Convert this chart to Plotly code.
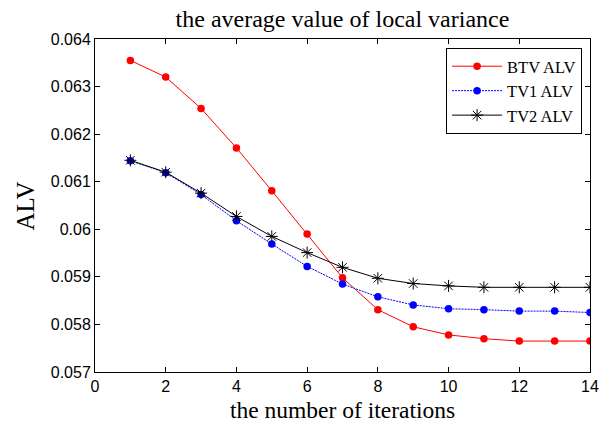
import plotly.graph_objects as go

iterations = list(range(1, 15))
btv_alv = [0.06355, 0.06320, 0.06254, 0.06171, 0.06081, 0.05990, 0.05898, 0.05831,
           0.05795, 0.05778, 0.05770, 0.05765, 0.05765, 0.05765]
tv1_alv = [0.06144, 0.06119, 0.06073, 0.06018, 0.05969, 0.05922, 0.05885, 0.05858,
           0.05841, 0.05833, 0.05831, 0.05828, 0.05828, 0.05825]
tv2_alv = [0.06145, 0.06120, 0.06076, 0.06027, 0.05985, 0.05951, 0.05920, 0.05897,
           0.05886, 0.05881, 0.05878, 0.05878, 0.05878, 0.05878]

SERIF = "Liberation Serif, Times New Roman"
SANS = "Liberation Sans, Arial"

fig = go.Figure()
fig.add_trace(go.Scatter(x=iterations, y=btv_alv, name="BTV ALV", mode="lines+markers",
                         line=dict(color="#ff0000", width=1),
                         marker=dict(symbol="circle", size=7.5, color="#ff0000")))
fig.add_trace(go.Scatter(x=iterations, y=tv1_alv, name="TV1 ALV", mode="lines+markers",
                         line=dict(color="#0000ff", width=1, dash="2px,1px"),
                         marker=dict(symbol="circle", size=7.5, color="#0000ff")))
fig.add_trace(go.Scatter(x=iterations, y=tv2_alv, name="TV2 ALV", mode="lines+markers",
                         line=dict(color="#000000", width=1),
                         marker=dict(symbol="asterisk-open", size=10,
                                     line=dict(color="#000000", width=1))))

axis_common = dict(showline=True, linecolor="black", linewidth=1, mirror="ticks",
                   ticks="inside", ticklen=5, tickcolor="black", showgrid=False,
                   zeroline=False, automargin=False,
                   tickfont=dict(family=SANS, size=16, color="black"))

fig.update_layout(
    width=606, height=425,
    autosize=False,
    margin=dict(l=95, r=16, t=39, b=53),
    paper_bgcolor="white", plot_bgcolor="white",
    title=dict(text="the average value of local variance", xref="paper", x=0.5,
               xanchor="center", y=0.957, yanchor="middle",
               font=dict(family=SERIF, size=24, color="black")),
    xaxis=dict(range=[0, 14], dtick=2, tick0=0, **axis_common),
    yaxis=dict(range=[0.057, 0.064], dtick=0.001, tickformat="~g", **axis_common),
    legend=dict(x=0.984, y=0.973, xanchor="right", yanchor="top",
                bordercolor="black", borderwidth=1, bgcolor="white",
                itemwidth=50, tracegroupgap=0,
                font=dict(family=SERIF, size=16.5, color="black")),
    showlegend=True,
    annotations=[
        dict(text="the number of iterations", xref="paper", yref="paper",
             x=0.5, y=-0.115, xanchor="center", yanchor="middle", showarrow=False,
             font=dict(family=SERIF, size=23.5, color="black")),
        dict(text="ALV", xref="paper", yref="paper", textangle=-90,
             x=-0.1394, y=0.5, xanchor="center", yanchor="middle", showarrow=False,
             font=dict(family=SERIF, size=25, color="black")),
    ],
)

fig.write_html("out.html",
               config={"displayModeBar": False, "responsive": False},
               post_script="document.body.style.margin='0';document.body.style.overflow='hidden';")
